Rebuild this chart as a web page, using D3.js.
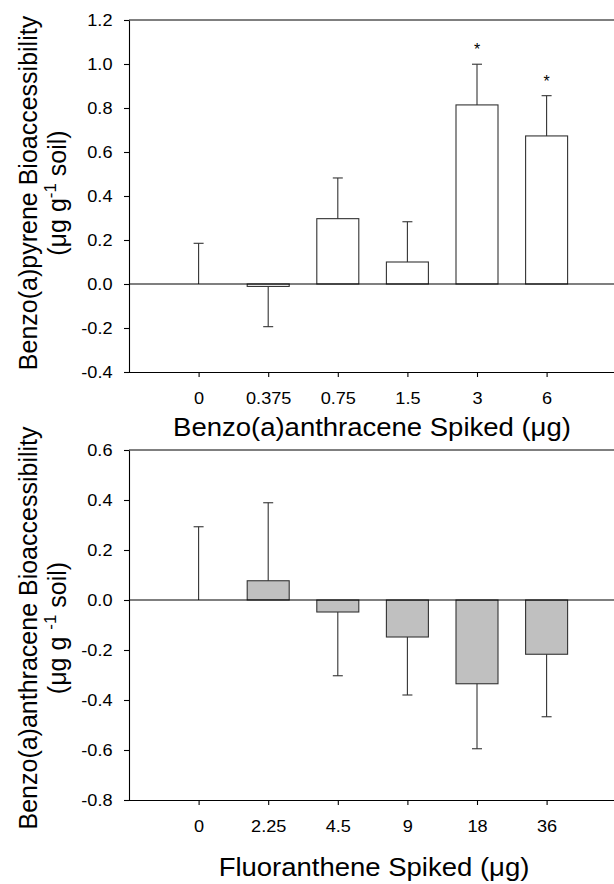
<!DOCTYPE html>
<html>
<head>
<meta charset="utf-8">
<script src="https://cdn.jsdelivr.net/npm/d3@7"></script>
<style>
  body { margin: 0; background: #fff; }
  text { font-family: "Liberation Sans", Arial, sans-serif; }
</style>
</head>
<body>
<div class="chart"></div>
<script>
// top panel: benzo(a)pyrene vs benzo(a)anthracene spike
var topCategories = ["0", "0.375", "0.75", "1.5", "3", "6"];
var topMeans = [0, -0.011, 0.297, 0.100, 0.814, 0.673];
var topErrors = [0.185, 0.183, 0.185, 0.183, 0.185, 0.183];
var topStars = [false, false, false, false, true, true];
var topTicks = [-0.4, -0.2, 0, 0.2, 0.4, 0.6, 0.8, 1.0, 1.2];

// bottom panel: benzo(a)anthracene vs fluoranthene spike
var bottomCategories = ["0", "2.25", "4.5", "9", "18", "36"];
var bottomMeans = [0, 0.077, -0.048, -0.148, -0.335, -0.217];
var bottomErrors = [0.293, 0.312, 0.255, 0.232, 0.260, 0.250];
var bottomStars = [false, false, false, false, false, false];
var bottomTicks = [-0.8, -0.6, -0.4, -0.2, 0, 0.2, 0.4, 0.6];

var width = 614, height = 884;
var left = 129, step = 69.6, barWidth = 42;
var stretch = "scale(1.1,1)"; // source figure is a bit wider than tall

var svg = d3.select(".chart")
    .append("svg")
    .attr("width", width)
    .attr("height", height);

function panel(opts) {
    var g = svg.append("g");
    var x = d3.scaleLinear()
        .domain([0, 7])
        .range([left, left + 7 * step]);
    var y = d3.scaleLinear()
        .domain(opts.domain)
        .range([opts.bottom, opts.top]);
    var data = opts.categories.map(function (c, i) {
        return { label: c, i: i + 1, mean: opts.means[i], err: opts.errors[i], star: opts.stars[i] };
    });

    /* ------- FRAME -------*/
    g.append("line")
        .attr("x1", left).attr("x2", width)
        .attr("y1", y(opts.domain[1])).attr("y2", y(opts.domain[1]))
        .attr("stroke", "#000").attr("stroke-width", 1);

    /* ------- BARS -------*/
    g.append("g").selectAll("rect")
        .data(data.filter(function (d) { return d.mean !== 0; }))
        .enter().append("rect")
        .attr("x", function (d) { return x(d.i) - barWidth / 2; })
        .attr("width", barWidth)
        .attr("y", function (d) { return Math.min(y(d.mean), y(0)); })
        .attr("height", function (d) { return Math.abs(y(d.mean) - y(0)); })
        .attr("fill", opts.fill)
        .attr("stroke", "#333")
        .attr("stroke-width", 1.1);

    /* ------- ERROR BARS -------*/
    var eb = g.append("g").selectAll("g")
        .data(data)
        .enter().append("g")
        .attr("stroke", "#333")
        .attr("stroke-width", 1.1);
    function tip(d) { return d.mean < 0 ? d.mean - d.err : d.mean + d.err; }
    eb.append("line")
        .attr("x1", function (d) { return x(d.i); })
        .attr("x2", function (d) { return x(d.i); })
        .attr("y1", function (d) { return y(d.mean); })
        .attr("y2", function (d) { return y(tip(d)); });
    eb.append("line")
        .attr("x1", function (d) { return x(d.i) - 5; })
        .attr("x2", function (d) { return x(d.i) + 5; })
        .attr("y1", function (d) { return y(tip(d)); })
        .attr("y2", function (d) { return y(tip(d)); });

    g.append("g").selectAll("text")
        .data(data.filter(function (d) { return d.star; }))
        .enter().append("text")
        .attr("transform", function (d) { return "translate(" + x(d.i) + "," + (y(tip(d)) - 9) + ")"; })
        .attr("text-anchor", "middle")
        .attr("font-size", 16)
        .text("*");

    /* ------- ZERO LINE -------*/
    g.append("line")
        .attr("x1", left).attr("x2", width)
        .attr("y1", y(0)).attr("y2", y(0))
        .attr("stroke", "#000").attr("stroke-width", 1.2);

    /* ------- AXES -------*/
    var ya = g.append("g")
        .attr("transform", "translate(" + left + ",0)")
        .call(d3.axisLeft(y)
            .tickValues(opts.ticks)
            .tickSize(5)
            .tickSizeOuter(0)
            .tickPadding(10)
            .tickFormat(function (d) { return d.toFixed(1); }));
    var xa = g.append("g")
        .attr("transform", "translate(0," + opts.bottom + ")")
        .call(d3.axisBottom(x)
            .tickValues(d3.range(1, data.length + 1))
            .tickSize(5)
            .tickSizeOuter(0)
            .tickPadding(15.5)
            .tickFormat(function (d) { return opts.categories[d - 1]; }));
    [ya, xa].forEach(function (a) {
        a.selectAll("text")
            .attr("font-family", "Liberation Sans, Arial, sans-serif")
            .attr("font-size", 16.5)
            .attr("fill", "#000")
            .attr("transform", stretch);
        a.selectAll("path, line").attr("stroke", "#000").attr("stroke-width", 1.1);
    });
    xa.select(".domain").attr("d", "M" + left + ",0.5H" + width);

    /* ------- TITLES -------*/
    g.append("text")
        .attr("transform", "translate(" + opts.xTitleX + "," + (opts.bottom + opts.xTitleDy) + ") " + stretch)
        .attr("text-anchor", "middle")
        .attr("font-size", 25)
        .text(opts.xTitle);

    var cy = opts.yTitleY;
    g.append("text")
        .attr("transform", "translate(37," + cy + ") rotate(-90)")
        .attr("text-anchor", "middle")
        .attr("font-size", 25)
        .text(opts.yTitle);
    var t2 = g.append("text")
        .attr("transform", "translate(66," + cy + ") rotate(-90)")
        .attr("text-anchor", "middle")
        .attr("font-size", 25);
    t2.append("tspan").text(opts.unitParts[0]);
    t2.append("tspan").attr("font-size", 17).attr("dy", -10).text(opts.unitParts[1]);
    t2.append("tspan").attr("dy", 10).text(opts.unitParts[2]);
}

panel({
    categories: topCategories, means: topMeans, errors: topErrors, stars: topStars,
    ticks: topTicks, domain: [-0.4, 1.2], top: 20, bottom: 372, fill: "#fff",
    xTitle: "Benzo(a)anthracene Spiked (\u03bcg)", xTitleX: 372, xTitleDy: 64,
    yTitle: "Benzo(a)pyrene Bioaccessibility", yTitleY: 193,
    unitParts: ["(\u03bcg g", "-1", "  soil)"]
});

panel({
    categories: bottomCategories, means: bottomMeans, errors: bottomErrors, stars: bottomStars,
    ticks: bottomTicks, domain: [-0.8, 0.6], top: 450, bottom: 800, fill: "#c0c0c0",
    xTitle: "Fluoranthene Spiked (\u03bcg)", xTitleX: 374, xTitleDy: 76,
    yTitle: "Benzo(a)anthracene Bioaccessibility", yTitleY: 628,
    unitParts: ["(\u03bcg g ", "-1", "  soil)"]
});
</script>
</body>
</html>
